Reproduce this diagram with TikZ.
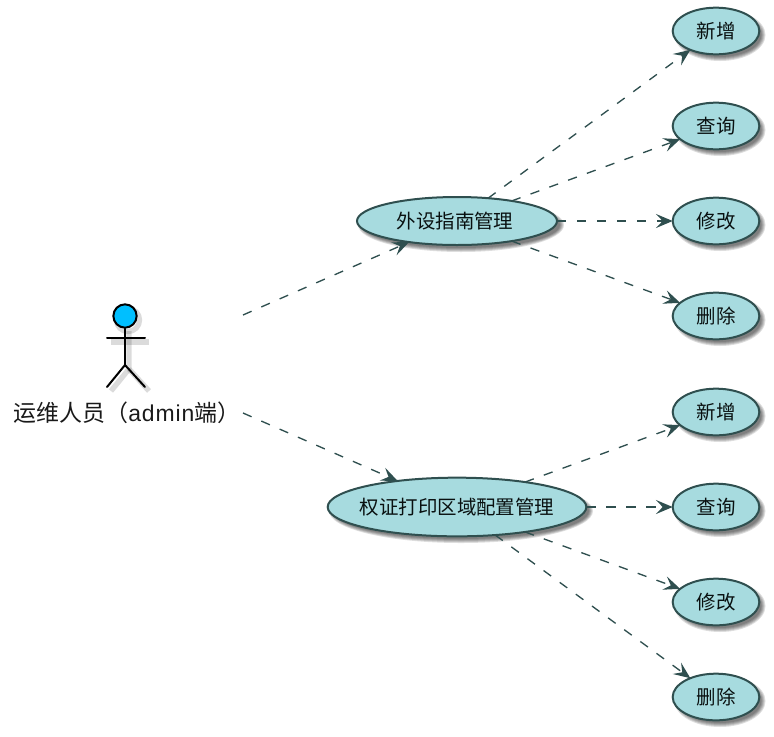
\documentclass[tikz,border=0pt]{standalone}
\usepackage{fontspec}
\setmainfont{Liberation Sans}
\newfontfamily\cjk{Noto Sans CJK SC}
\usetikzlibrary{shapes.geometric,arrows.meta}
\definecolor{ucfill}{HTML}{A7DBDF}
\definecolor{ucline}{HTML}{2F4F4F}
\definecolor{actorblue}{HTML}{00BFFF}
\newcommand{\softshadow}[4]{%
  \foreach \g in {3,2,1,0,-1}{%
    \fill[black,opacity=0.13] (#1+4,#2+4) ellipse [x radius=#3+\g*0.75pt, y radius=#4+\g*0.75pt];}}
\newcommand{\ulabel}[1]{\makebox[0pt][c]{#1}}
\tikzset{
  usecase/.style={ellipse,draw=ucline,fill=ucfill,line width=1.5pt,inner sep=0pt,outer sep=0pt,
    font=\cjk\fontsize{14.6}{16}\selectfont,text=black!80!ucline},
  small case/.style={usecase,minimum width=65pt,minimum height=35pt},
  mid case/.style={usecase,minimum width=150pt,minimum height=36pt},
  big case/.style={usecase,minimum width=194pt,minimum height=44pt},
  link/.style={draw=ucline,line width=1pt,dash pattern=on 7pt off 8pt,
    -{Stealth[length=12.5pt,width=10.5pt,inset=5pt,fill=ucline]}},
  stick/.style={draw=black,line width=1.5pt,line cap=round},
  stick shadow/.style={draw=black,opacity=0.14,line width=4pt},
  actorlabel/.style={inner sep=0pt,font=\fontsize{17.2}{20}\selectfont,text=black!90}
}
\begin{document}
\begin{tikzpicture}[x=0.75pt,y=-0.75pt]
\useasboundingbox (0,0) rectangle (774,736);
% shadows
\softshadow{457}{221}{100pt*0.75}{24pt*0.75}
\softshadow{457}{507}{129pt*0.75}{29pt*0.75}
\foreach \yy in {31,126,221,316,412,507,602,697}{\softshadow{716}{\yy}{42.5pt*0.75}{23pt*0.75}}
% free ends at the actor
\coordinate (a1) at (243,315);
\coordinate (a2) at (243,413);
% actor shadow
\draw[stick shadow] (128,320) circle (11.5);
\draw[stick shadow] (111,342) -- (149,342);
\draw[stick shadow] (129,331) -- (129,369) -- (111,391);
\draw[stick shadow] (129,369) -- (149,391);
% nodes
\node[mid case] (uc1) at (457,221) {\ulabel{\hspace{-3pt}外设指南管理}};
\node[big case] (uc2) at (457,507) {\ulabel{权证打印区域配置管理}};
\node[small case] (r1) at (716,31) {\ulabel{新增}};
\node[small case] (r2) at (716,126) {\ulabel{查询}};
\node[small case] (r3) at (716,221) {\ulabel{修改}};
\node[small case] (r4) at (716,316) {\ulabel{删除}};
\node[small case] (s1) at (716,412) {\ulabel{新增}};
\node[small case] (s2) at (716,507) {\ulabel{查询}};
\node[small case] (s3) at (716,602) {\ulabel{修改}};
\node[small case] (s4) at (716,697) {\ulabel{删除}};
% actor
\node[circle,draw=black,fill=actorblue,line width=1.5pt,minimum size=17.5pt,inner sep=0pt] (head) at (125,316) {};
\coordinate (hip) at (125,365);
\draw[stick] (head.south) -- (hip);
\draw[stick] (107,338) -- (145,338);
\draw[stick] (107,387) -- (hip) -- (145,387);
\node[actorlabel] (actor) at (127,413) {{\cjk 运维人员（}\addfontfeature{LetterSpace=4}admin{\cjk 端）}};
% connectors
\path[link] (a1) -- (uc1);
\path[link] (a2) -- (uc2);
\foreach \t in {r1,r2,r3,r4}{\path[link] (uc1) -- (\t);}
\foreach \t in {s1,s2,s3,s4}{\path[link] (uc2) -- (\t);}
\end{tikzpicture}
\end{document}
